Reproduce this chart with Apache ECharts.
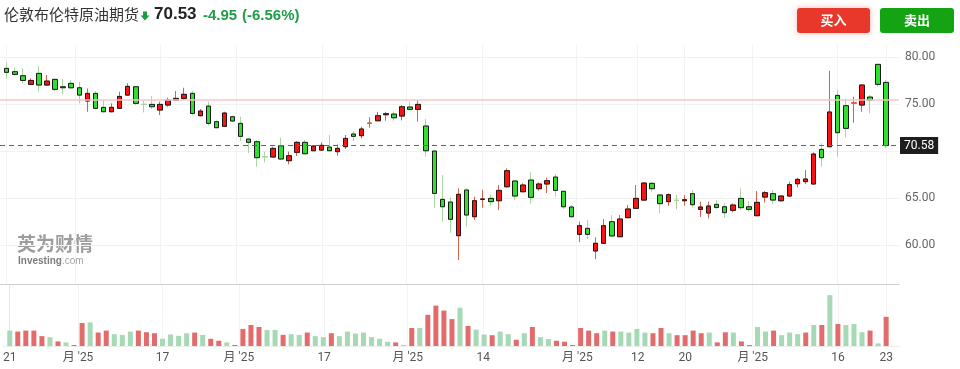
<!DOCTYPE html>
<html><head><meta charset="utf-8">
<script src="https://cdn.jsdelivr.net/npm/echarts@6/dist/echarts.min.js"></script>
<style>html,body{margin:0;padding:0;background:#fff}#c{width:960px;height:369px}</style>
</head><body><div id="c"></div>
<script>
// ---- data ----
const title = '伦敦布伦特原油期货';
const lastPrice = 70.53;
const lineLabelPrice = 70.58;
const prevClose = 75.48;
const change = '-4.95';
const changePct = '(-6.56%)';

const open = [78.79,78.44,78.01,77.09,78.26,77.02,77.62,76.84,77.20,76.73,
75.32,76.13,74.64,74.18,74.54,75.95,76.84,74.97,74.96,74.36,
74.89,75.42,75.60,76.13,73.76,74.78,73.12,72.62,73.65,72.94,
71.27,70.99,69.40,69.36,70.56,68.97,69.86,70.92,70.03,70.10,
70.42,69.93,70.46,71.81,71.63,72.95,73.22,73.86,73.93,73.72,
74.68,74.43,72.66,70.00,64.85,64.57,60.99,65.85,63.01,64.86,
64.96,64.71,66.20,66.81,65.67,66.91,65.99,66.49,67.23,65.71,
64.04,61.13,61.77,59.36,60.18,62.48,60.88,62.91,63.90,64.78,
66.56,65.32,64.61,64.76,64.71,65.46,63.79,63.40,64.32,64.07,
63.69,64.96,64.07,63.12,65.10,65.46,64.71,65.21,66.52,66.74,
66.49,70.17,70.46,75.92,74.82,75.10,74.89,75.74,79.22,77.30];

const close = [78.37,78.15,77.51,77.51,77.02,77.44,76.56,76.73,76.73,75.95,
76.13,74.54,74.18,74.64,75.81,76.88,75.07,74.95,74.71,74.96,
75.42,75.60,76.03,74.00,74.25,72.94,72.48,74.04,73.19,71.56,
70.92,69.29,69.38,70.28,69.15,69.50,70.92,69.71,70.53,70.60,
70.03,70.28,71.34,71.56,72.34,72.97,73.76,73.97,73.54,74.71,
74.43,74.96,70.03,65.49,64.07,62.73,65.39,63.19,64.71,64.89,
64.61,65.81,67.90,65.21,66.38,65.07,66.49,66.84,65.81,64.07,
63.01,62.05,61.13,60.18,62.05,60.96,62.76,63.83,64.96,66.59,
65.99,64.40,65.35,64.74,64.82,64.29,64.04,64.15,64.00,63.44,
64.25,63.97,63.79,64.54,65.56,64.78,65.21,66.42,66.98,67.02,
69.68,69.29,74.15,71.95,72.41,75.12,77.02,75.42,77.09,70.58];

const high = [79.43,78.86,78.79,77.73,79.04,78.08,77.73,77.66,77.55,77.37,
76.66,76.38,75.42,75.07,76.31,77.20,76.91,75.42,75.85,75.25,
75.67,76.38,76.73,76.38,74.47,75.25,73.26,74.18,73.76,73.65,
71.34,71.17,69.93,70.46,71.42,69.93,71.06,71.17,70.64,70.92,
71.70,70.71,71.70,72.12,72.59,73.58,74.18,74.18,74.18,74.89,
75.25,75.42,73.40,70.07,67.44,65.07,66.03,66.03,65.14,65.85,
65.39,66.38,68.15,66.88,66.56,67.73,66.66,67.16,67.55,65.74,
64.25,62.48,62.66,60.81,62.76,63.19,63.19,64.25,66.38,66.66,
66.74,65.39,65.49,65.32,65.32,65.85,64.61,64.61,64.78,64.47,
64.43,66.03,64.68,65.74,65.74,65.85,65.32,66.74,67.16,67.98,
69.86,70.81,78.54,76.49,75.60,75.78,77.09,75.96,79.25,77.55];

const low = [77.73,78.01,77.20,77.02,76.31,76.95,76.38,76.03,76.56,75.07,
74.18,74.45,74.11,74.12,74.50,75.88,74.89,74.11,74.47,73.83,
74.71,75.40,75.42,73.83,73.69,72.69,72.41,72.55,73.12,71.06,
69.78,68.33,68.79,69.29,69.04,68.58,69.47,69.64,70.00,70.00,
70.00,69.50,70.21,71.06,71.34,72.48,73.19,73.22,73.22,73.26,
74.36,73.12,69.39,63.97,62.48,61.31,58.40,61.95,62.66,63.97,
64.18,63.72,66.10,64.75,65.60,64.40,65.78,65.53,65.14,63.83,
62.94,60.30,60.64,58.47,60.14,60.85,60.85,62.84,63.83,64.71,
65.67,63.37,64.18,63.79,64.18,63.97,62.98,62.84,63.83,62.91,
63.47,63.72,63.54,63.05,64.54,64.36,64.61,65.14,66.13,66.49,
66.45,68.33,70.40,69.39,71.42,73.01,74.18,74.00,76.84,70.28];

const volume = [47,44,47,47,30,27,14,11,3,70,
72,41,47,36,34,44,47,42,39,22,
35,31,39,41,34,22,16,11,3,52,
64,58,49,49,34,36,34,41,30,27,
39,30,44,38,41,27,22,13,11,3,
55,55,95,123,108,82,117,61,50,35,
33,44,36,19,39,58,27,21,16,13,
3,55,47,39,47,44,44,41,52,41,
39,55,39,33,33,47,39,41,11,42,
41,14,3,58,44,47,33,41,36,41,
64,64,155,67,64,67,42,47,8,89];

// 1 = up (red), -1 = down (green), as coloured in the volume panel
const volumeDir = [-1,1,1,1,1,-1,1,-1,1,1,
-1,1,1,-1,-1,-1,1,1,1,-1,
-1,-1,-1,1,-1,1,1,-1,1,1,
1,1,-1,-1,1,-1,-1,1,-1,-1,
1,-1,-1,-1,-1,-1,-1,-1,1,-1,
1,-1,1,1,1,1,-1,1,-1,-1,
1,-1,-1,1,-1,1,-1,-1,1,1,
1,1,1,1,-1,1,-1,-1,-1,-1,
1,1,-1,1,1,1,1,-1,1,1,
-1,1,1,-1,-1,1,-1,-1,-1,1,
-1,1,-1,1,-1,-1,-1,1,-1,1];

const tickLabels = ['21',"月 '25",'17',"月 '25",'17',"月 '25",'14',"月 '25",'12','20',"月 '25",'16','23'];
const tickAt = [0, 8.5, 19, 28.5, 39.1, 49.5, 58.9, 70.6, 78.1, 84, 92.4, 103, 109];

// ---- chart ----
const RED = '#ff1111', GREEN = '#2fe02f';
const WICK_RED = '#d9604f', WICK_GREEN = '#a9d6a0';
const VOL_RED = '#e26b6b', VOL_GREEN = '#a6d9b5';
const idx = open.map((_, i) => i);

const wickData = idx.map(i => [i, open[i], close[i], low[i], high[i]]);
const bodyData = idx.map(i => {
  const o = open[i], c = close[i];
  const item = { value: [i, o, c, Math.min(o, c), Math.max(o, c)] };
  if (Math.abs(o - c) < 0.025) {
    const col = o < c ? WICK_RED : WICK_GREEN;
    item.itemStyle = { borderColor: col, borderColor0: col };
  }
  return item;
});
const volData = idx.map(i => ({
  value: [i, volume[i]],
  itemStyle: { color: volumeDir[i] > 0 ? VOL_RED : VOL_GREEN }
}));

const XMIN = -0.83, XMAX = 110.6;
const labelFor = v => {
  let best = 0;
  tickAt.forEach((t, k) => { if (Math.abs(t - v) < Math.abs(tickAt[best] - v)) best = k; });
  return tickLabels[best];
};
const fontAxis = 'Roboto, "Noto Sans CJK SC", sans-serif';

const chart = echarts.init(document.getElementById('c'), null, { renderer: 'canvas' });
chart.setOption({
  animation: false,
  backgroundColor: '#fff',
  grid: [
    { left: 0, top: 45, width: 899, height: 239 },
    { left: 0, top: 285, width: 899, height: 61 }
  ],
  xAxis: [
    { type: 'value', gridIndex: 0, min: XMIN, max: XMAX,
      axisLabel: { show: false },
      axisTick: { show: false, customValues: tickAt },
      axisLine: { show: true, lineStyle: { color: '#cfcfcf', width: 1 } },
      splitLine: { show: true, lineStyle: { color: '#f3f3f3' } } },
    { type: 'value', gridIndex: 1, min: XMIN, max: XMAX,
      axisLabel: { customValues: tickAt, formatter: v => labelFor(v), color: '#555', fontSize: 12, margin: 6, fontFamily: fontAxis },
      axisTick: { show: false, customValues: tickAt },
      axisLine: { show: true, lineStyle: { color: '#ececec' } },
      splitLine: { show: true, lineStyle: { color: '#f3f3f3' } } }
  ],
  yAxis: [
    { type: 'value', gridIndex: 0, position: 'right', min: 55.85, max: 81.28, splitNumber: 5,
      axisLine: { show: false }, axisTick: { show: false },
      axisLabel: { formatter: v => v.toFixed(2), color: '#666', fontSize: 12, margin: 6, showMinLabel: false, showMaxLabel: false, fontFamily: fontAxis },
      splitLine: { show: true, showMinLine: false, showMaxLine: false, lineStyle: { color: '#f1f1f1' } } },
    { type: 'value', gridIndex: 1, position: 'right', min: 0, max: 186,
      axisLine: { show: true, lineStyle: { color: '#e6e6e6' } }, axisTick: { show: false },
      axisLabel: { show: false }, splitLine: { show: false } }
  ],
  series: [
    { type: 'candlestick', name: 'wick', xAxisIndex: 0, yAxisIndex: 0,
      encode: { x: 0, y: [1, 2, 3, 4] }, barWidth: 5, data: wickData,
      itemStyle: { color: WICK_RED, color0: WICK_GREEN, borderColor: WICK_RED, borderColor0: WICK_GREEN, borderWidth: 1 } },
    { type: 'candlestick', name: 'body', xAxisIndex: 0, yAxisIndex: 0,
      encode: { x: 0, y: [1, 2, 3, 4] }, barWidth: 5, data: bodyData, z: 3,
      itemStyle: { color: RED, color0: GREEN, borderColor: '#1a1a1a', borderColor0: '#1a1a1a', borderWidth: 1 },
      markLine: {
        silent: true, symbol: ['none', 'none'], animation: false,
        data: [
          { yAxis: prevClose, lineStyle: { color: '#f7c6c6', type: 'solid', width: 1.5 }, label: { show: false } },
          { yAxis: lineLabelPrice, lineStyle: { color: '#666', type: [5, 4], width: 1 },
            label: { show: true, position: 'end', distance: 1, formatter: lineLabelPrice.toFixed(2),
              backgroundColor: '#1e1e1e', color: '#fff', fontSize: 12, padding: [3, 4, 2, 4], fontFamily: fontAxis } }
        ]
      } },
    { type: 'bar', name: 'volume', xAxisIndex: 1, yAxisIndex: 1, barWidth: 5, data: volData }
  ],
  graphic: [
    { type: 'text', left: 4, top: 7, style: { text: title, fontSize: 15, fill: '#333', fontFamily: '"Noto Sans CJK SC"' } },
    { type: 'polygon', shape: { points: [[143, 11.5], [147, 11.5], [147, 15.5], [149.5, 15.5], [145, 20.5], [140.5, 15.5], [143, 15.5]] }, style: { fill: '#1d9a45' } },
    { type: 'text', left: 154, top: 6, style: { text: lastPrice.toFixed(2), fontSize: 17, fontWeight: 'bold', fill: '#222', fontFamily: '"Liberation Sans", Arial, sans-serif' } },
    { type: 'text', left: 203, top: 8, style: { text: change, fontSize: 15, fontWeight: 'bold', fill: '#1f9d48', fontFamily: '"Liberation Sans", Arial, sans-serif' } },
    { type: 'text', left: 242, top: 8, style: { text: changePct, fontSize: 15, fontWeight: 'bold', fill: '#1f9d48', fontFamily: '"Liberation Sans", Arial, sans-serif' } },
    { type: 'rect', shape: { x: 797, y: 8, width: 73, height: 25, r: 3 }, style: { fill: '#e8372b', shadowBlur: 6, shadowColor: 'rgba(232,55,43,0.35)' } },
    { type: 'text', x: 833.5, y: 20.5, style: { text: '买入', fontSize: 13, fontWeight: 'bold', fill: '#fff', align: 'center', verticalAlign: 'middle', fontFamily: '"Noto Sans CJK SC"' } },
    { type: 'rect', shape: { x: 880, y: 8, width: 74, height: 25, r: 3 }, style: { fill: '#13a313' } },
    { type: 'text', x: 917, y: 20.5, style: { text: '卖出', fontSize: 13, fontWeight: 'bold', fill: '#fff', align: 'center', verticalAlign: 'middle', fontFamily: '"Noto Sans CJK SC"' } },
    { type: 'text', left: 17, top: 234, style: { text: '英为财情', fontSize: 19, fontWeight: 'bold', fill: '#8c8c8c', opacity: 0.85, fontFamily: '"Noto Sans CJK SC"' } },
    { type: 'text', left: 18, top: 256, style: { text: '{a|Investing}{b|.com}', fill: '#777', opacity: 0.9,
        rich: { a: { fontSize: 10, fontWeight: 'bold', fill: '#6f6f6f', fontFamily: 'Arial, sans-serif' }, b: { fontSize: 10, fill: '#999', fontFamily: 'Arial, sans-serif' } } } }
  ]
});
</script></body></html>
